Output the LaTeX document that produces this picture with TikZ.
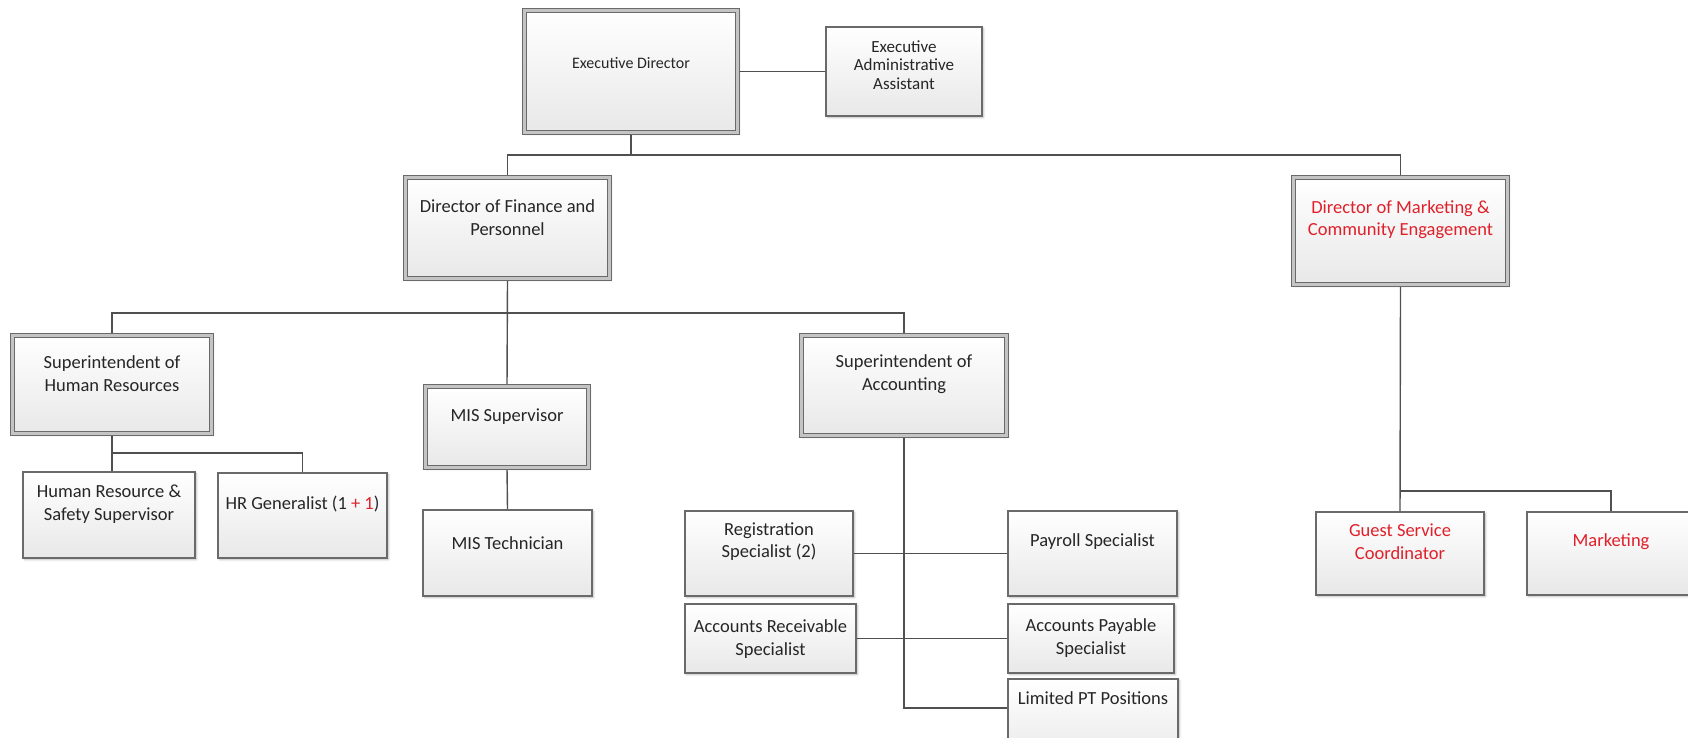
\documentclass[tikz,border=0pt]{standalone}
\usepackage{fontspec}
\setmainfont{Carlito}
\usetikzlibrary{shadows.blur,backgrounds}
\definecolor{boxline}{HTML}{6A6A6A}
\definecolor{boxband}{HTML}{C4C4C4}
\definecolor{boxfill}{HTML}{E8E8E8}
\definecolor{wire}{HTML}{505050}
\definecolor{txt}{HTML}{262626}
\definecolor{hot}{HTML}{E0202A}
\tikzset{
  card/.style={rectangle, inner sep=0pt, draw=boxline, line width=1.2pt,
    top color=white, bottom color=boxfill,
    blur shadow={shadow xshift=1.5pt, shadow yshift=-1.5pt,
      shadow blur radius=2pt, shadow blur steps=4, shadow opacity=30}},
  chief/.style={card, draw=boxline, line width=1.3pt, double=boxband,
    double distance=2.3pt},
  lbl/.style={inner sep=0pt, align=center, text=txt,
    font=\fontsize{18.5}{22.5}\selectfont},
  wires/.style={draw=wire, line width=1.4pt},
}
\newcommand{\cardbox}[6]{% style, name, cx, cy, width, height
  \node[#1, minimum width=#5pt, minimum height=#6pt] (#2) at (#3,#4) {};}
\begin{document}
\begin{tikzpicture}[x=1pt, y=-1pt]
\useasboundingbox (0,0) rectangle (1688,738);
\clip (0,0) rectangle (1688,738);

% boxes
\cardbox{chief}{ed}{631}{71.5}{213}{122}
\cardbox{card}{eaa}{904}{71.5}{156}{89}
\cardbox{chief}{dfp}{507.5}{228}{204}{101}
\cardbox{chief}{dmce}{1400.5}{231}{214}{107}
\cardbox{chief}{shr}{112}{384.5}{199}{98}
\cardbox{chief}{mis}{507}{427}{163}{81}
\cardbox{chief}{sa}{904}{385.5}{205}{100}
\cardbox{card}{hrss}{109}{515}{172}{86}
\cardbox{card}{hrg}{302.5}{515.5}{169}{85}
\cardbox{card}{mist}{507.5}{553}{169}{86}
\cardbox{card}{reg}{769}{553.5}{168}{85}
\cardbox{card}{pay}{1092.5}{553.5}{169}{85}
\cardbox{card}{ar}{770.5}{638.5}{171}{69}
\cardbox{card}{ap}{1091}{638.5}{166}{69}
\cardbox{card}{lpt}{1093}{721.5}{170}{85}
\cardbox{card}{gsc}{1400}{553.5}{168}{83}
\cardbox{card}{mkt}{1611}{553.5}{168}{83}

% labels
\node[lbl, font=\fontsize{16}{19.5}\selectfont] (ed-t) at (631,63) {Executive Director};
\node[lbl, font=\fontsize{17}{18.5}\selectfont] (eaa-t) at (904,65) {Executive\\Administrative\\Assistant};
\node[lbl] (dfp-t) at (507.5,217.5) {Director of Finance and\\Personnel};
\node[lbl, text=hot] (dmce-t) at (1400.5,219.5) {Director of Marketing \&\\Community Engagement};
\node[lbl] (shr-t) at (112,373.5) {Superintendent of\\Human Resources};
\node[lbl] (mis-t) at (507,417) {MIS Supervisor};
\node[lbl] (sa-t) at (904,374) {Superintendent of\\Accounting};
\node[lbl] (hrss-t) at (109,504) {Human Resource \&\\Safety Supervisor};
\node[lbl] (hrg-t) at (302.5,504) {HR Generalist (1 \textcolor{hot}{+ 1})};
\node[lbl] (mist-t) at (507.5,543) {MIS Technician};
\node[lbl] (reg-t) at (769,541.5) {Registration\\Specialist (2)};
\node[lbl] (pay-t) at (1092.5,542) {Payroll Specialist};
\node[lbl] (ar-t) at (770.5,639) {Accounts Receivable\\Specialist};
\node[lbl] (ap-t) at (1091,638) {Accounts Payable\\Specialist};
\node[lbl] (lpt-t) at (1093,698) {Limited PT Positions};
\node[lbl, text=hot] (gsc-t) at (1400,541.5) {Guest Service\\Coordinator};
\node[lbl, text=hot] (mkt-t) at (1611,542) {Marketing};

% connectors, kept behind the boxes
\begin{pgfonlayer}{background}
\coordinate (j1) at (631,155);
\coordinate (j2) at (507.5,313);
\coordinate (j3) at (112,453);
\coordinate (j4) at (1400.5,491);
\draw[wires] (ed.east) -- (eaa.west);
\draw[wires] (ed.south) -- (j1);
\draw[wires] (dfp.north) |- (j1) -| (dmce.north);
\draw[wires] (dfp.south) -- (mis.north);
\draw[wires] (shr.north) |- (j2) -| (sa.north);
\draw[wires] (shr.south) -- (shr.south |- hrss.north);
\draw[wires] (j3) -| (hrg.north);
\draw[wires] (mis.south) -- (mist.north);
\draw[wires] (sa.south) |- ([yshift=13.5pt]lpt.west);
\draw[wires] (reg.east) -- (pay.west);
\draw[wires] (ar.east) -- (ap.west);
\draw[wires] (dmce.south) -- (gsc.north);
\draw[wires] (j4) -| (mkt.north);
\end{pgfonlayer}
\end{tikzpicture}
\end{document}
